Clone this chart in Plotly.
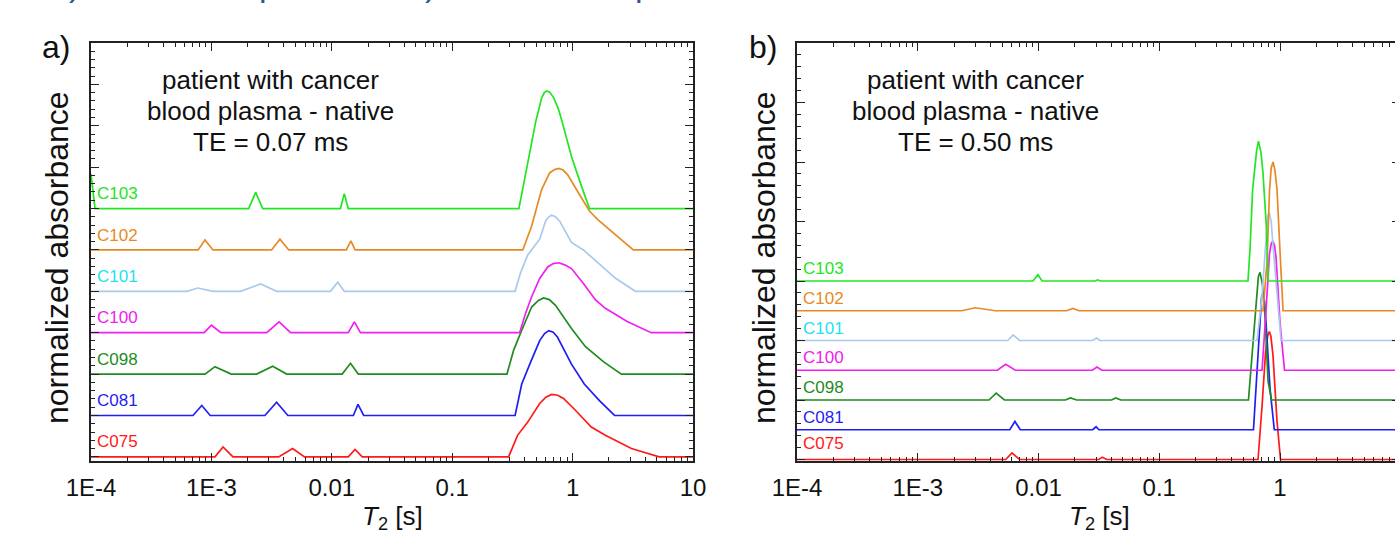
import plotly.graph_objects as go

# ---------------- data (T2 in seconds, amplitude above each trace's baseline) -------------
SERIES = ["C075", "C081", "C098", "C100", "C101", "C102", "C103"]
OFFSET_A = [0, 1, 2, 3, 4, 5, 6]
OFFSET_B = [0, 1, 2, 3, 4, 5, 6]
LINE_COLORS = ["#ff1a1a", "#1f1ff5", "#1e8c1e", "#f020f0", "#a9c9ee", "#e88a24", "#22e622"]
LABEL_COLORS = ["#ff1a1a", "#1f1ff5", "#1e8c1e", "#f020f0", "#22e2f0", "#e88a24", "#22e622"]
TICK_VALS = [1e-4, 1e-3, 1e-2, 1e-1, 1, 10]
TICK_TEXT = ["1E-4", "1E-3", "0.01", "0.1", "1", "10"]

# ---- panel a) TE = 0.07 ms
A_C075_T2 = [1e-4, 1.07e-3, 1.25e-3, 1.51e-3, 3.62e-3, 4.72e-3, 5.94e-3, 1.37e-2, 1.56e-2, 1.79e-2,
             0.294, 0.349, 0.424, 0.533, 0.60, 0.67, 0.75, 0.841, 1.06, 1.43, 1.87, 3.08, 5.24, 10]
A_C075_AMP = [0, 0, 0.24, 0, 0, 0.20, 0, 0, 0.18, 0,
              0, 0.52, 0.84, 1.29, 1.44, 1.51, 1.49, 1.41, 1.12, 0.72, 0.52, 0.20, 0, 0]
A_C081_T2 = [1e-4, 7.03e-4, 8.32e-4, 9.77e-4, 2.78e-3, 3.48e-3, 4.32e-3, 1.51e-2, 1.65e-2, 1.84e-2,
             0.333, 0.378, 0.441, 0.533, 0.585, 0.634, 0.69, 0.75, 0.979, 1.25, 1.67, 2.23, 10]
A_C081_AMP = [0, 0, 0.24, 0, 0, 0.32, 0, 0, 0.27, 0,
              0, 0.76, 1.24, 1.81, 1.98, 2.05, 2.01, 1.89, 1.24, 0.76, 0.36, 0, 0]
A_C098_T2 = [1e-4, 8.85e-4, 1.07e-3, 1.46e-3, 2.38e-3, 3.23e-3, 4.22e-3, 1.22e-2, 1.43e-2, 1.66e-2,
             0.285, 0.324, 0.378, 0.457, 0.52, 0.574, 0.64, 0.721, 0.979, 1.28, 1.80, 2.54, 10]
A_C098_AMP = [0, 0, 0.18, 0, 0, 0.19, 0, 0, 0.26, 0,
              0, 0.58, 1.06, 1.62, 1.78, 1.84, 1.80, 1.66, 1.10, 0.66, 0.30, 0, 0]
A_C100_T2 = [1e-4, 8.71e-4, 1.0e-3, 1.2e-3, 2.88e-3, 3.65e-3, 4.55e-3, 1.37e-2, 1.54e-2, 1.73e-2,
             0.363, 0.407, 0.457, 0.533, 0.621, 0.69, 0.767, 0.86, 0.979, 1.23, 1.55, 1.87, 2.84, 4.5, 10]
A_C100_AMP = [0, 0, 0.18, 0, 0, 0.26, 0, 0, 0.26, 0,
              0, 0.47, 0.87, 1.31, 1.59, 1.67, 1.69, 1.64, 1.55, 1.19, 0.79, 0.59, 0.27, 0, 0]
A_C101_T2 = [1e-4, 6.27e-4, 7.71e-4, 1.03e-3, 1.75e-3, 2.57e-3, 3.48e-3, 9.75e-3, 1.12e-2, 1.27e-2,
             0.333, 0.369, 0.424, 0.533, 0.597, 0.635, 0.67, 0.72, 0.78, 0.979, 1.23, 2.26, 3.32, 10]
A_C101_AMP = [0, 0, 0.08, 0, 0, 0.18, 0, 0, 0.22, 0,
              0, 0.44, 0.88, 1.26, 1.70, 1.80, 1.84, 1.80, 1.70, 1.18, 1.0, 0.32, 0, 0]
A_C102_T2 = [1e-4, 7.76e-4, 8.85e-4, 1.03e-3, 3.16e-3, 3.71e-3, 4.39e-3, 1.32e-2, 1.44e-2, 1.56e-2,
             0.386, 0.457, 0.553, 0.644, 0.708, 0.767, 0.832, 0.908, 1.14, 1.38, 1.61, 2.26, 3.19, 10]
A_C102_AMP = [0, 0, 0.24, 0, 0, 0.26, 0, 0, 0.22, 0,
              0, 0.58, 1.46, 1.86, 1.94, 1.97, 1.93, 1.82, 1.34, 0.94, 0.74, 0.38, 0, 0]
A_C103_T2 = [1e-4, 1.08e-4, 2.04e-3, 2.33e-3, 2.67e-3, 1.18e-2, 1.27e-2, 1.37e-2,
             0.358, 0.424, 0.494, 0.553, 0.582, 0.611, 0.646, 0.695, 0.759, 0.811, 0.979, 1.159, 1.38, 10]
A_C103_AMP = [0.84, 0, 0, 0.39, 0, 0, 0.36, 0,
              0, 1.10, 2.10, 2.67, 2.80, 2.84, 2.81, 2.68, 2.42, 2.14, 1.26, 0.62, 0, 0]

# ---- panel b) TE = 0.50 ms
B_C075_T2 = [1e-4, 5.35e-3, 6.03e-3, 6.97e-3, 3.17e-2, 3.37e-2, 3.68e-2,
             0.658, 0.71, 0.759, 0.79, 0.815, 0.84, 0.875, 0.944, 1.01, 10]
B_C075_AMP = [0, 0, 0.22, 0, 0, 0.08, 0,
              0, 1.8, 3.6, 4.15, 4.3, 4.15, 3.5, 1.3, 0, 0]
B_C081_T2 = [1e-4, 5.79e-3, 6.38e-3, 7.06e-3, 2.81e-2, 3.0e-2, 3.17e-2,
             0.603, 0.646, 0.683, 0.703, 0.723, 0.745, 0.766, 0.826, 0.897, 10]
B_C081_AMP = [0, 0, 0.28, 0, 0, 0.10, 0,
              0, 2.0, 3.8, 4.45, 4.6, 4.3, 3.6, 1.4, 0, 0]
B_C098_T2 = [1e-4, 3.89e-3, 4.46e-3, 5.22e-3, 1.67e-2, 1.84e-2, 2.07e-2, 4.03e-2, 4.36e-2, 4.81e-2,
             0.548, 0.593, 0.641, 0.662, 0.683, 0.715, 0.751, 0.796, 0.851, 10]
B_C098_AMP = [0, 0, 0.23, 0, 0, 0.07, 0, 0, 0.07, 0,
              0, 1.73, 3.63, 4.15, 4.29, 3.9, 2.84, 0.63, 0, 0]
B_C100_T2 = [1e-4, 4.56e-3, 5.35e-3, 6.43e-3, 2.79e-2, 3.05e-2, 3.35e-2,
             0.71, 0.766, 0.818, 0.845, 0.871, 0.9, 0.927, 1.0, 1.09, 10]
B_C100_AMP = [0, 0, 0.20, 0, 0, 0.11, 0,
              0, 2.0, 3.9, 4.25, 4.34, 4.2, 3.8, 1.6, 0, 0]
B_C101_T2 = [1e-4, 5.57e-3, 6.17e-3, 6.97e-3, 2.81e-2, 3.02e-2, 3.22e-2,
             0.646, 0.71, 0.766, 0.79, 0.815, 0.845, 0.875, 0.944, 1.02, 10]
B_C101_AMP = [0, 0, 0.19, 0, 0, 0.08, 0,
              0, 1.5, 3.6, 4.15, 4.3, 4.0, 3.2, 1.5, 0, 0]
B_C102_T2 = [1e-4, 2.32e-3, 2.99e-3, 4.38e-3, 1.70e-2, 1.93e-2, 2.16e-2,
             0.723, 0.78, 0.818, 0.845, 0.875, 0.905, 0.944, 1.0, 1.06, 10]
B_C102_AMP = [0, 0, 0.10, 0, 0, 0.08, 0,
              0, 1.6, 4.0, 4.8, 5.0, 4.75, 4.1, 2.0, 0, 0]
B_C103_T2 = [1e-4, 9.0e-3, 9.89e-3, 1.07e-2, 2.95e-2, 3.09e-2, 3.24e-2,
             0.543, 0.565, 0.593, 0.641, 0.664, 0.697, 0.723, 0.771, 0.80, 10]
B_C103_AMP = [0, 0, 0.21, 0, 0, 0.04, 0,
              0, 1.1, 3.07, 4.4, 4.7, 4.3, 3.63, 1.83, 0, 0]

PANEL_A = [(A_C075_T2, A_C075_AMP), (A_C081_T2, A_C081_AMP), (A_C098_T2, A_C098_AMP),
           (A_C100_T2, A_C100_AMP), (A_C101_T2, A_C101_AMP), (A_C102_T2, A_C102_AMP),
           (A_C103_T2, A_C103_AMP)]
PANEL_B = [(B_C075_T2, B_C075_AMP), (B_C081_T2, B_C081_AMP), (B_C098_T2, B_C098_AMP),
           (B_C100_T2, B_C100_AMP), (B_C101_T2, B_C101_AMP), (B_C102_T2, B_C102_AMP),
           (B_C103_T2, B_C103_AMP)]

# ---------------- layout geometry (pixels) ----------------
W, H = 1395, 540
ML, MR, MT, MB = 91, 0, 43, 79
PW = W - ML - MR
PH = H - MT - MB
A_X1 = 693
B_X0 = 797
PX_PER_DEC_B = 120.75
FONT = "Liberation Sans, Arial, sans-serif"
Y_RANGE_B = [-0.05, 14]


def px(xp):
    return (xp - ML) / PW


def py(yp):
    return (H - MB - yp) / PH


fig = go.Figure()
for i, name in enumerate(SERIES):
    t2, amp = PANEL_A[i]
    fig.add_trace(go.Scatter(x=t2, y=[OFFSET_A[i] + a for a in amp], mode="lines",
                             line=dict(color=LINE_COLORS[i], width=1.7), xaxis="x", yaxis="y",
                             showlegend=False, hoverinfo="skip"))
    t2, amp = PANEL_B[i]
    fig.add_trace(go.Scatter(x=t2, y=[OFFSET_B[i] + a for a in amp], mode="lines",
                             line=dict(color=LINE_COLORS[i], width=1.7), xaxis="x2", yaxis="y2",
                             showlegend=False, hoverinfo="skip"))
# empty trace so that the right-hand tick axis of panel b is drawn
fig.add_trace(go.Scatter(x=[], y=[], xaxis="x2", yaxis="y3", showlegend=False, hoverinfo="skip"))

axis_common = dict(type="log", tickmode="array", tickvals=TICK_VALS, ticktext=TICK_TEXT,
                   ticks="inside", ticklen=8, tickwidth=1.3, tickcolor="#222",
                   showline=True, linecolor="#222", linewidth=1.5, mirror="ticks",
                   showgrid=False, zeroline=False, automargin=False,
                   tickfont=dict(family=FONT, size=24, color="#111"),
                   minor=dict(dtick="D1", ticks="inside", ticklen=4, tickwidth=1, tickcolor="#222",
                              showgrid=False),
                   ticklabelstandoff=4)
yaxis_common = dict(ticks="inside", ticklen=8, tickwidth=1.3, tickcolor="#222",
                    showline=True, linecolor="#222", linewidth=1.5, automargin=False,
                    showgrid=False, zeroline=False, showticklabels=False, tick0=0)

b_right_log = -4 + (W - B_X0) / PX_PER_DEC_B

fig.update_layout(
    template="none",
    width=W, height=H, autosize=False, margin=dict(l=ML, r=MR, t=MT, b=MB, autoexpand=False),
    paper_bgcolor="white", plot_bgcolor="white", showlegend=False,
    xaxis=dict(domain=[0, px(A_X1)], range=[-4, 1], anchor="y", **axis_common),
    xaxis2=dict(domain=[px(B_X0), 1], range=[-4, b_right_log], anchor="y2", **axis_common),
    yaxis=dict(domain=[0, 1], range=[-0.1, 10], anchor="x", dtick=1, mirror="ticks",
               minor=dict(dtick=0.2, ticks="inside", ticklen=4, tickcolor="#222", showgrid=False),
               **yaxis_common),
    yaxis2=dict(domain=[0, 1], range=Y_RANGE_B, anchor="x2", dtick=2, mirror=False,
                minor=dict(dtick=0.4, ticks="inside", ticklen=4, tickcolor="#222", showgrid=False),
                **yaxis_common),
    # right-hand axis of panel b lies just beyond the picture edge: only tick stubs show
    yaxis3=dict(overlaying="y2", side="right", anchor="x2", range=Y_RANGE_B, dtick=2, tick0=0,
                ticks="inside", ticklen=3, tickwidth=1.3, tickcolor="#222", showline=False,
                showgrid=False, zeroline=False, showticklabels=False, automargin=False),
)

ann = []
# series labels
for i, name in enumerate(SERIES):
    ann.append(dict(x=px(95), y=OFFSET_A[i] + 0.36, xref="paper", yref="y", text=name,
                    showarrow=False, xanchor="left", yanchor="middle",
                    font=dict(family=FONT, size=17, color=LABEL_COLORS[i])))
    ann.append(dict(x=px(801), y=OFFSET_B[i] + (0.42 if i > 0 else 0.55), xref="paper", yref="y2",
                    text=name, showarrow=False, xanchor="left", yanchor="middle",
                    font=dict(family=FONT, size=17, color=LABEL_COLORS[i])))

# description text blocks
for cx, te in [(270, "TE = 0.07 ms"), (975, "TE = 0.50 ms")]:
    for yy, line in [(80, "patient with cancer"), (111, "blood plasma - native"), (142, te)]:
        ann.append(dict(x=px(cx), y=py(yy), xref="paper", yref="paper", text=line, showarrow=False,
                        xanchor="center", yanchor="middle",
                        font=dict(family=FONT, size=26, color="#111")))

# panel letters
for cx, letter in [(56, "a)"), (763, "b)")]:
    ann.append(dict(x=px(cx), y=py(47), xref="paper", yref="paper", text=letter, showarrow=False,
                    xanchor="center", yanchor="middle", font=dict(family=FONT, size=32, color="#111")))

# y titles
for cx in [57, 764]:
    ann.append(dict(x=px(cx), y=py(258), xref="paper", yref="paper", text="normalized absorbance",
                    showarrow=False, textangle=-90, xanchor="center", yanchor="middle",
                    font=dict(family=FONT, size=32, color="#111")))

# x titles
for cx in [392, 1099]:
    ann.append(dict(x=px(cx), y=py(517), xref="paper", yref="paper",
                    text="<i>T</i><sub>2</sub> [s]", showarrow=False, xanchor="center",
                    yanchor="middle", font=dict(family=FONT, size=26, color="#111")))

# cut-off blue heading at the very top (only descenders visible)
for cx, ch in [(74, ")"), (268, "p"), (430, ")"), (644, "p")]:
    ann.append(dict(x=px(cx), y=py(-16), xref="paper", yref="paper", text=ch, showarrow=False,
                    xanchor="center", yanchor="middle",
                    font=dict(family=FONT, size=34, color="#2c5694")))

fig.update_layout(annotations=ann)
fig.write_html(
    "out.html",
    config={"responsive": False, "displayModeBar": False},
    post_script=("document.documentElement.style.margin='0';document.body.style.margin='0';"
                 "document.documentElement.style.overflow='hidden';"
                 "document.body.style.overflow='hidden';"),
)
